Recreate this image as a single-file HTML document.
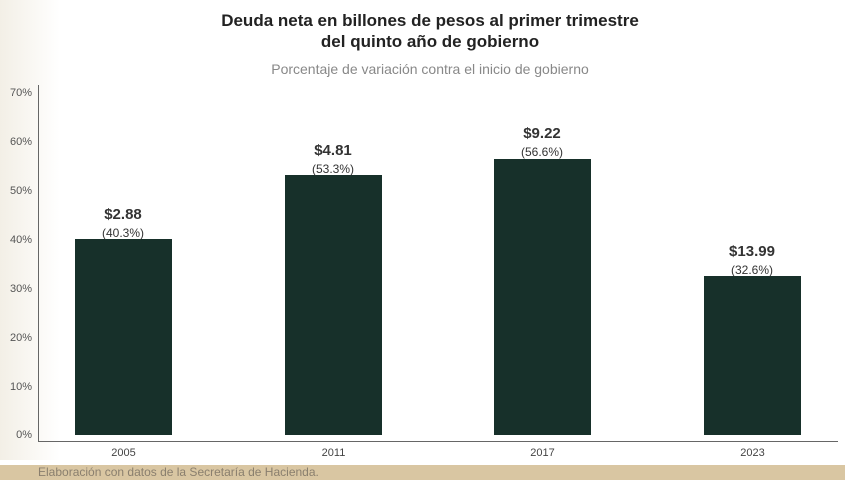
<!DOCTYPE html>
<html><head><meta charset="utf-8"><style>
body{margin:0;width:859px;height:495px;background:#fff;overflow:hidden;position:relative;font-family:"Liberation Sans",sans-serif}
.t{position:absolute;left:0;width:859px;text-align:center}
.yl{position:absolute;left:4px;width:28px;text-align:right;font-size:11px;color:#555}
.bar{position:absolute;background:#17302a;width:97px}
.lab{position:absolute;width:120px;text-align:center;color:#333}
.xl{position:absolute;width:97px;text-align:center;font-size:11px;color:#444;top:447px}
</style></head><body>
<div style="position:absolute;left:0;top:0;width:60px;height:460px;background:linear-gradient(90deg,#f3efe6,#fff)"></div>
<div class="t" style="top:10px;left:140px;width:580px;font-size:17px;font-weight:bold;color:#222;line-height:21px">Deuda neta en billones de pesos al primer trimestre<br>del quinto año de gobierno</div>
<div class="t" style="top:61px;left:140px;width:580px;font-size:14px;color:#888">Porcentaje de variación contra el inicio de gobierno</div>
<div style="position:absolute;left:38px;top:85px;width:1px;height:357px;background:#666"></div>
<div style="position:absolute;left:38px;top:441px;width:800px;height:1px;background:#666"></div>
<div class="yl" style="top:87px">70%</div>
<div class="yl" style="top:136px">60%</div>
<div class="yl" style="top:185px">50%</div>
<div class="yl" style="top:234px">40%</div>
<div class="yl" style="top:283px">30%</div>
<div class="yl" style="top:332px">20%</div>
<div class="yl" style="top:381px">10%</div>
<div class="yl" style="top:429px">0%</div>
<div class="bar" style="left:75px;top:239px;height:196px"></div>
<div class="bar" style="left:285px;top:175px;height:260px"></div>
<div class="bar" style="left:494px;top:159px;height:276px"></div>
<div class="bar" style="left:704px;top:276px;height:159px"></div>
<div class="lab" style="left:63px;top:206px"><b style="font-size:15px">$2.88</b><br><span style="font-size:12px">(40.3%)</span></div>
<div class="lab" style="left:273px;top:142px"><b style="font-size:15px">$4.81</b><br><span style="font-size:12px">(53.3%)</span></div>
<div class="lab" style="left:482px;top:125px"><b style="font-size:15px">$9.22</b><br><span style="font-size:12px">(56.6%)</span></div>
<div class="lab" style="left:692px;top:243px"><b style="font-size:15px">$13.99</b><br><span style="font-size:12px">(32.6%)</span></div>
<div class="xl" style="left:75px">2005</div>
<div class="xl" style="left:285px">2011</div>
<div class="xl" style="left:494px">2017</div>
<div class="xl" style="left:704px">2023</div>
<div style="position:absolute;left:0;top:465px;width:845px;height:15px;background:#d9c6a2"></div>
<div style="position:absolute;left:38px;top:465px;font-size:12px;color:#8a7f6e;line-height:15px">Elaboración con datos de la Secretaría de Hacienda.</div>
</body></html>
